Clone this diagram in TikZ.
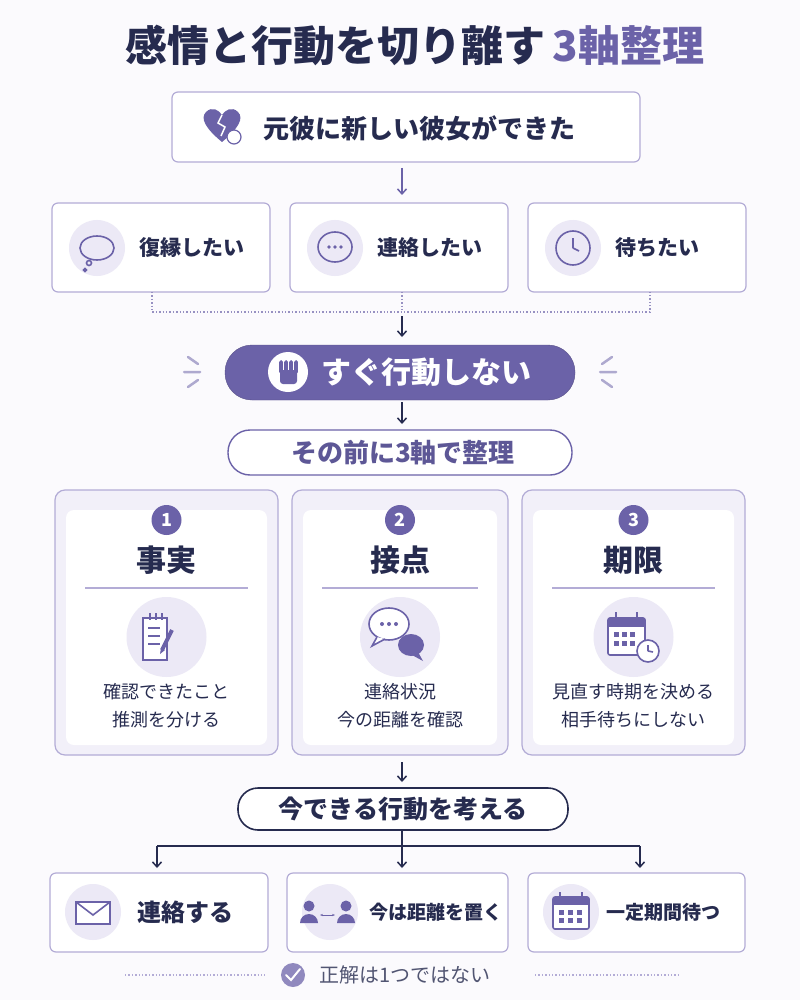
\documentclass[tikz,border=0pt]{standalone}
\usepackage{fontspec}
\setmainfont{Noto Sans CJK JP}
\usetikzlibrary{arrows.meta}
\definecolor{pur}{HTML}{6B62A8}
\definecolor{lpur}{HTML}{ECE9F6}
\definecolor{bpur}{HTML}{B3ACD6}
\definecolor{navy}{HTML}{262B4F}
\definecolor{bg}{HTML}{FBFAFD}
\begin{document}
\begin{tikzpicture}[x=1pt,y=-1pt,
 box/.style={draw=bpur,line width=1.2pt,rounded corners=6pt,fill=white},
 card/.style={draw=bpur,line width=1.2pt,rounded corners=10pt,fill=lpur!70},
 inner/.style={fill=white,rounded corners=8pt},
 ic/.style={circle,fill=lpur,minimum size=56pt,inner sep=0pt},
 bic/.style={circle,fill=lpur,minimum size=80pt,inner sep=0pt},
 txt/.style={text=navy,font=\fontsize{21}{24}\selectfont\bfseries},
 stxt/.style={text=navy,font=\fontsize{18}{28}\selectfont,align=center},
 arr/.style={-{Straight Barb[length=5pt,width=9pt]},line width=1.5pt},
 icl/.style={draw=pur,line width=1.6pt}]
\fill[bg] (0,0) rectangle (800,1000);
\useasboundingbox (0,0) rectangle (800,1000);
% title
\node (title) at (415,45) {\fontsize{42}{46}\selectfont\bfseries\color{navy}感情と行動を切り離す\,\color{pur}3軸整理};
% top
\draw[box] (172,92) rectangle (640,162);
\node[txt,anchor=west] (top) at (260,128) {\fontsize{26}{30}\selectfont 元彼に新しい彼女ができた};
\fill[pur] (222,142) .. controls (205,128) and (200,118) .. (206,112) .. controls (212,106) and (219,110) .. (222,115) .. controls (225,110) and (232,106) .. (238,112) .. controls (244,118) and (239,128) .. (222,142);
\draw[white,line width=1.5pt] (222,115) -- (218,123) -- (225,127) -- (221,136);
\draw[pur,line width=1.2pt,fill=white] (234,137) circle (7);
\draw[pur,arr] (402,168) -- (402,195);
% three wants
\foreach \x/\t/\n in {52/復縁したい/a,290/連絡したい/b,528/待ちたい/c}{
 \draw[box] (\x,203) rectangle ++(218,89);
 \node[ic] (ic\n) at (\x+45,248) {};
 \node[txt,anchor=west] (w\n) at (\x+84,248) {\t};
}
\draw[icl] (97,248) ellipse (17 and 12);
\draw[icl] (89,263) circle (2.5); \draw[icl] (85,270) circle (1.5);
\draw[icl] (335,247) ellipse (17 and 15);
\foreach \d in {-6,0,6} \fill[pur] (335+\d,247) circle (1.8);
\draw[icl] (573,248) circle (17);
\draw[icl] (573,248) -- (573,238) (573,248) -- (579,251);
\draw[pur!70,dotted,line width=1.4pt] (152,292) -- (152,312) -- (650,312) -- (650,292);
\draw[pur!70,dotted,line width=1.4pt] (402,292) -- (402,312);
\draw[navy,arr] (402,316) -- (402,337);
% stop pill
\draw[fill=pur,draw=pur!80!black,rounded corners=27pt] (225,345) rectangle (575,400);
\fill[white] (288,372) circle (20);
\fill[pur,rounded corners=3pt] (280,384) rectangle (297,370);
\foreach \xx in {281,286,291,296} \fill[pur,rounded corners=1.8pt] (\xx-1.8,374) rectangle (\xx+1.8,360);
\node[text=white,font=\fontsize{30}{34}\selectfont\bfseries,anchor=west] (stop) at (318,372) {すぐ行動しない};
\draw[pur!55,line width=2.5pt,line cap=round] (188,357)--(198,364) (184,372)--(200,372) (188,387)--(198,380)
 (612,357)--(602,364) (616,372)--(600,372) (612,387)--(602,380);
\draw[navy,arr] (402,402) -- (402,424);
\draw[draw=pur,line width=1.4pt,fill=white,rounded corners=22pt] (228,430) rectangle (572,475);
\node[text=pur!80!navy,font=\fontsize{26}{30}\selectfont\bfseries] (pre) at (403,453) {その前に3軸で整理};
% cards
\foreach \x/\w/\num/\h/\la/\lb/\n in {55/223/1/事実/確認できたこと/推測を分ける/a,292/216/2/接点/連絡状況/今の距離を確認/b,522/223/3/期限/見直す時期を決める/相手待ちにしない/c}{
 \draw[card] (\x,490) rectangle ++(\w,265);
 \fill[inner] (\x+11,510) rectangle (\x+\w-11,745);
 \node[circle,fill=pur,text=white,minimum size=30pt,inner sep=0pt,font=\fontsize{18}{18}\selectfont\bfseries] (n\n) at (\x+\w/2,520) {\num};
 \node[text=navy,font=\fontsize{30}{34}\selectfont\bfseries] (h\n) at (\x+\w/2,560) {\h};
 \draw[bpur,line width=1.2pt] (\x+30,588) -- (\x+\w-30,588);
 \node[bic] (bi\n) at (\x+\w/2,637) {};
 \node[stxt] (t\n) at (\x+\w/2,706) {\la\\\lb};
}
% icon memo
\draw[icl,fill=white] (143,618) rectangle (167,660);
\foreach \yy in {628,636,644} \draw[pur,line width=1.4pt] (148,\yy) -- (160,\yy);
\foreach \xx in {150,156,162} \draw[pur,line width=1.4pt] (\xx,613) -- (\xx,620);
\draw[pur,line width=4pt] (172,630) -- (162,650);
\fill[pur] (160,654) -- (161,648) -- (165,650) -- cycle;
% icon chat
\draw[icl,fill=white] (389,624) ellipse (20 and 16);
\draw[icl,fill=white] (377,637) -- (372,646) -- (385,639);
\foreach \d in {-7,0,7} \fill[pur] (389+\d,624) circle (2);
\fill[pur] (411,645) ellipse (13 and 11); \fill[pur] (418,652) -- (423,661) -- (412,655) -- cycle;
% icon calendar
\draw[icl,fill=white,rounded corners=2pt] (608,618) rectangle (645,655);
\fill[pur] (608,618) rectangle (645,627);
\draw[icl] (616,612) -- (616,621) (637,612) -- (637,621);
\foreach \i in {0,1,2} \foreach \j in {0,1} \fill[pur] (614+\i*8,632+\j*9) rectangle ++(5,5);
\draw[icl,fill=white] (648,651) circle (11);
\draw[icl] (648,651) -- (648,645) (648,651) -- (653,652);
\draw[navy,arr] (402,762) -- (402,782);
% action pill
\draw[draw=navy,line width=1.6pt,fill=white,rounded corners=20pt] (238,788) rectangle (568,830);
\node[text=navy,font=\fontsize{25}{28}\selectfont\bfseries] (act) at (403,809) {今できる行動を考える};
\draw[navy,line width=1.6pt] (402,830) -- (402,846) (157,846) -- (640,846);
\foreach \x in {157,402,640} \draw[navy,arr] (\x,846) -- (\x,868);
% bottom boxes
\foreach \x/\w/\n in {50/218/a,287/221/b,528/217/c}{
 \draw[box] (\x,873) rectangle ++(\w,79);
 \node[ic] (bic\n) at (\x+43,912) {};
}
\node[txt,anchor=west] (ba) at (134,912) {\fontsize{24}{28}\selectfont 連絡する};
\node[txt,anchor=west] (bb) at (366,912) {\fontsize{19}{22}\selectfont 今は距離を置く};
\node[txt,anchor=west] (bc) at (603,912) {\fontsize{19}{22}\selectfont 一定期間待つ};
\draw[icl,fill=white] (76,902) rectangle (110,924);
\draw[icl] (76,902) -- (93,915) -- (110,902);
\fill[pur] (309,906) circle (5.5); \fill[pur] (300,923) arc (180:360:9) -- cycle;
\fill[pur] (346,906) circle (5.5); \fill[pur] (337,923) arc (180:360:9) -- cycle;
\draw[pur,line width=1pt,{Stealth[length=3pt]}-{Stealth[length=3pt]}] (320,915) -- (335,915);
\draw[icl,fill=white,rounded corners=2pt] (553,897) rectangle (589,929);
\fill[pur] (553,897) rectangle (589,905);
\draw[icl] (560,892) -- (560,900) (582,892) -- (582,900);
\foreach \i in {0,1,2} \foreach \j in {0,1} \fill[pur] (559+\i*9,910+\j*8) rectangle ++(5,5);
% footer
\draw[bpur,dotted,line width=1.4pt] (125,975) -- (265,975) (535,975) -- (680,975);
\node[circle,fill=pur!75,minimum size=24pt,inner sep=0pt] (chk) at (293,975) {};
\draw[white,line width=2pt,line cap=round] (286,975) -- (291,980) -- (300,969);
\node[text=navy!80,font=\fontsize{20}{24}\selectfont,anchor=west] (foot) at (316,975) {正解は1つではない};
\end{tikzpicture}
\end{document}
